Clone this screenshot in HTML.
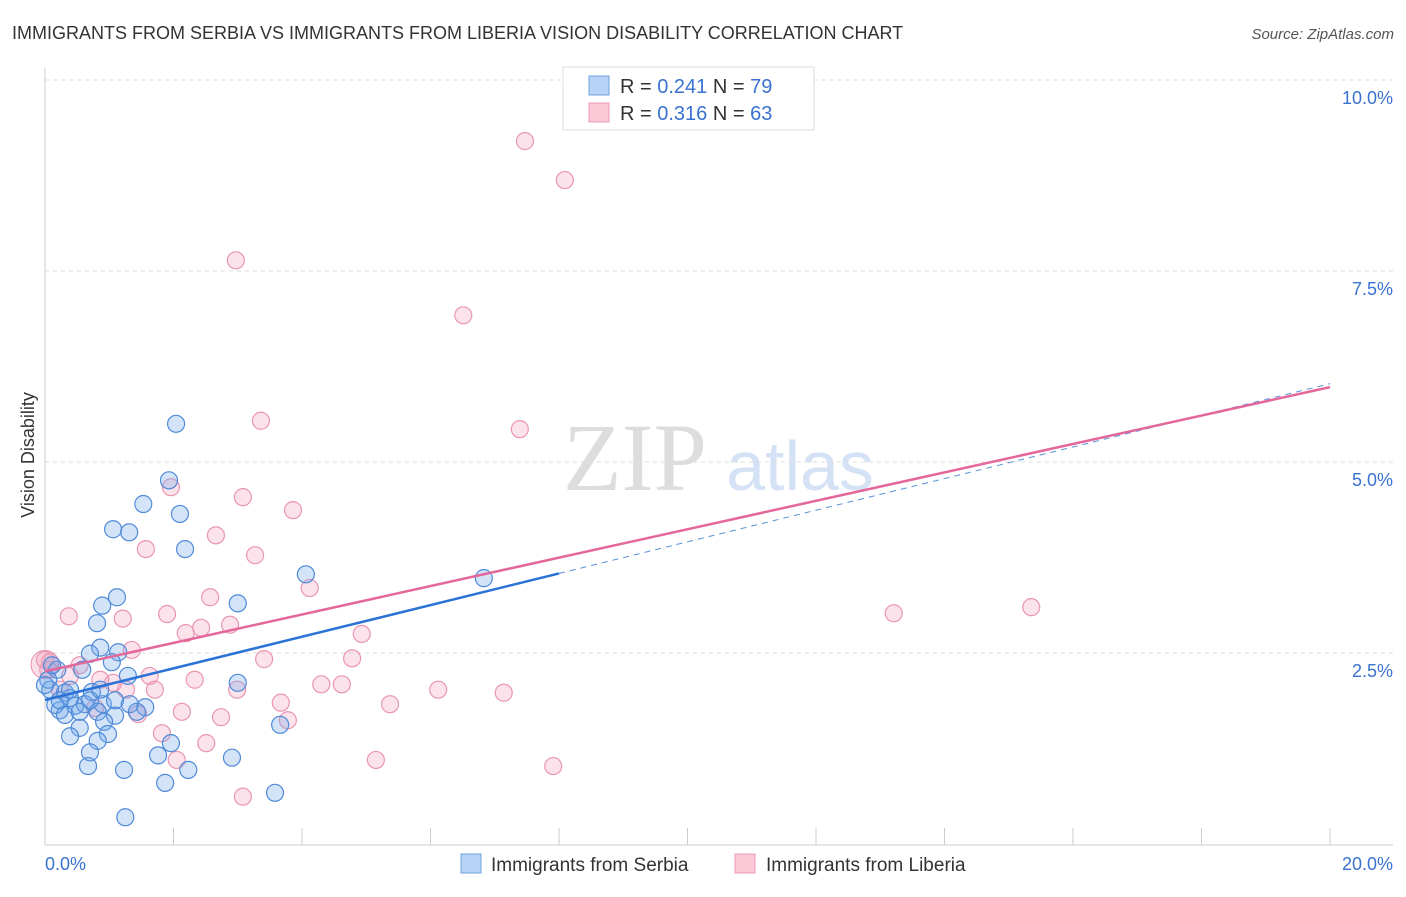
<!DOCTYPE html>
<html><head><meta charset="utf-8"><style>
body{margin:0;background:#fff;font-family:"Liberation Sans",sans-serif}
</style></head><body>
<svg id="c" width="1406" height="892" xmlns="http://www.w3.org/2000/svg" style="font-family:'Liberation Sans',sans-serif">
<text x="12" y="39" font-size="18" fill="#333">IMMIGRANTS FROM SERBIA VS IMMIGRANTS FROM LIBERIA VISION DISABILITY CORRELATION CHART</text>
<text x="1394" y="39" font-size="15" fill="#555" font-style="italic" text-anchor="end">Source: ZipAtlas.com</text>
<text x="635" y="490" font-size="96" fill="#ddd" font-family="'Liberation Serif',serif" text-anchor="middle">ZIP</text>
<text x="800" y="490" font-size="70" fill="#d5e2f5" text-anchor="middle">atlas</text>
<text x="34" y="455" font-size="18" fill="#333" text-anchor="middle" transform="rotate(-90 34 455)">Vision Disability</text>
<g id="grid"></g><g id="pts"></g><g id="lines"></g>
<g>
<rect x="563" y="67" width="251" height="63" fill="#fff" stroke="#ddd"/>
<rect x="589" y="76" width="20" height="19" fill="#b8d3f5" stroke="#6fa0e0"/>
<rect x="589" y="103" width="20" height="19" fill="#fbc8d8" stroke="#ec9ab4"/>
<text x="620" y="93" font-size="20" fill="#333">R = <tspan fill="#3a72d0">0.241</tspan>   N = <tspan fill="#3a72d0">79</tspan></text>
<text x="620" y="120" font-size="20" fill="#333">R = <tspan fill="#3a72d0">0.316</tspan>   N = <tspan fill="#3a72d0">63</tspan></text>
</g>
<g>
<rect x="461" y="854" width="20" height="19" fill="#b8d3f5" stroke="#6fa0e0"/>
<text x="491" y="871" font-size="19" fill="#333">Immigrants from Serbia</text>
<rect x="735" y="854" width="20" height="19" fill="#fbc8d8" stroke="#ec9ab4"/>
<text x="766" y="871" font-size="19" fill="#333">Immigrants from Liberia</text>
</g>
</svg>
<script>
const yTicks=[2.5,5,7.5,10];
const yTickLabels=["2.5%","5.0%","7.5%","10.0%"];
const xTicks=[0,2,4,6,8,10,12,14,16,18,20];
const serbiaX=[2.04,1.93,1.53,2.10,1.06,1.31,2.18,4.06,6.83,1.12,0.89,3.00,0.81,0.86,1.14,0.70,1.04,1.29,0.58,3.00,0.19,0.08,0.31,0.39,0.73,0.47,0.23,0.62,0.90,1.09,1.32,1.56,1.43,1.09,0.82,0.16,0.05,0.11,0.92,0.54,0.98,0.39,0.82,1.96,1.76,0.70,0.67,1.23,2.23,2.91,1.87,3.58,1.25,3.66,0,0.23,0.70,0.39,0.86,0.31,0.54];
const serbiaY=[5.50,4.76,4.45,4.32,4.12,4.08,3.86,3.53,3.48,3.23,3.12,3.15,2.89,2.57,2.51,2.49,2.38,2.20,2.28,2.11,2.28,2.02,1.98,1.91,1.99,1.81,1.75,1.83,1.83,1.88,1.83,1.79,1.73,1.68,1.73,1.82,2.15,2.34,1.60,1.52,1.44,1.41,1.35,1.32,1.16,1.20,1.02,0.97,0.97,1.13,0.80,0.67,0.35,1.56,2.08,1.88,1.88,2.02,2.02,1.69,1.73];
const liberiaX=[7.47,8.09,2.97,6.51,3.36,7.39,1.96,3.08,3.86,2.66,1.57,3.27,4.12,0.37,1.21,1.90,2.57,2.19,2.43,2.88,4.93,13.21,15.35,1.35,3.41,4.78,0.54,1.06,1.63,2.33,2.99,4.30,4.62,6.12,7.14,1.26,1.71,2.13,2.74,3.67,3.78,5.37,0.78,1.82,2.51,2.05,5.15,7.91,3.08,0.08,0.05,0.39,0.86,0.23,0,1.45];
const liberiaY=[9.20,8.69,7.64,6.92,5.54,5.43,4.67,4.54,4.37,4.04,3.86,3.78,3.35,2.98,2.95,3.01,3.23,2.76,2.83,2.87,2.75,3.02,3.10,2.54,2.42,2.43,2.34,2.11,2.20,2.15,2.02,2.09,2.09,2.02,1.98,2.02,2.02,1.73,1.66,1.85,1.62,1.83,1.78,1.45,1.32,1.10,1.10,1.02,0.62,2.38,2.28,2.20,2.15,2.02,2.41,1.70];
const serbiaFit=[1.885,0.207];
const liberiaFit=[2.26,0.186];
const X=v=>45+v*64.25, Y=v=>844-v*76.4;
const NS="http://www.w3.org/2000/svg";
function mk(t,a,p){const e=document.createElementNS(NS,t);for(const k in a)e.setAttribute(k,a[k]);p.appendChild(e);return e;}
const grid=document.getElementById('grid');
mk('line',{x1:45,y1:68,x2:45,y2:845,stroke:'#ccc'},grid);
mk('line',{x1:45,y1:845,x2:1393,y2:845,stroke:'#ccc'},grid);
yTicks.forEach((t,i)=>{
 const l=mk('line',{x1:45,y1:Y(t),x2:1393,y2:Y(t),stroke:'#ddd','stroke-dasharray':'4,4'},grid);
 
 
 const tx=mk('text',{x:1393,y:Y(t)+24,'font-size':18,fill:'#3a72d0','text-anchor':'end'},grid);
 tx.textContent=yTickLabels[i];
 
 
});
xTicks.forEach(t=>{
 const l=mk('line',{x1:X(t),y1:828,x2:X(t),y2:845,stroke:'#ccc'},grid);
 
 
});
[[0,"0.0%",'start',45],[20,"20.0%",'end',1393]].forEach(d=>{
 const tx=mk('text',{x:d[3],y:870,'font-size':18,fill:'#3a72d0','text-anchor':d[2]},grid);
 tx.textContent=d[1];
 
 
});
const pts=document.getElementById('pts');
mk('circle',{cx:X(0),cy:Y(2.35),r:14,fill:'rgba(240,150,180,0.3)',stroke:'#e890ac'},pts);
liberiaX.forEach((x,i)=>{
 const c=mk('circle',{cx:X(x),cy:Y(liberiaY[i]),r:8.5,fill:'rgba(246,160,190,0.3)',stroke:'#e996b2','stroke-width':1.2},pts);
 
 
});
serbiaX.forEach((x,i)=>{
 const c=mk('circle',{cx:X(x),cy:Y(serbiaY[i]),r:8.5,fill:'rgba(110,165,235,0.3)',stroke:'#4f8ad8','stroke-width':1.2},pts);
 
 
});
const ln=document.getElementById('lines');
const f=(a,x)=>a[0]+a[1]*x;
let l=mk('line',{x1:X(0),y1:Y(f(serbiaFit,0)),x2:X(8),y2:Y(f(serbiaFit,8)),stroke:'#2a72d6','stroke-width':2.5},ln);


l=mk('line',{x1:X(8),y1:Y(f(serbiaFit,8)),x2:X(20),y2:Y(f(serbiaFit,20)),stroke:'#5a8fd8','stroke-width':1,'stroke-dasharray':'6,5'},ln);


l=mk('line',{x1:X(0),y1:Y(f(liberiaFit,0)),x2:X(20),y2:Y(f(liberiaFit,20)),stroke:'#e4679a','stroke-width':2.5},ln);


</script>
</body></html>
